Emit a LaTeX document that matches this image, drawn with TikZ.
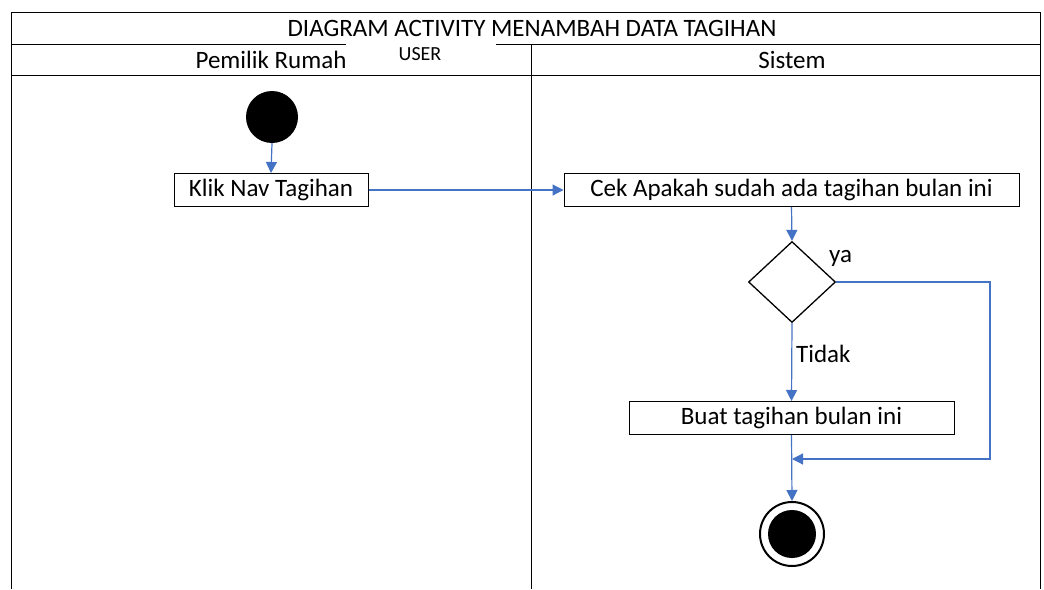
\documentclass[tikz,border=0pt]{standalone}
\usepackage{fontspec}
\setmainfont{Carlito}
\usetikzlibrary{shapes.geometric,arrows.meta}
\definecolor{flow}{HTML}{4472C4}
\begin{document}
\begin{tikzpicture}[x=1pt,y=-1pt,
  frame/.style={draw=black,line width=0.9pt},
  actbox/.style={draw=black,line width=1pt,minimum height=33pt,inner sep=0pt,font=\fontsize{25}{30}\selectfont},
  flowline/.style={draw=flow,line width=1.2pt},
  flowarr/.style={flowline,-{Triangle[length=11pt,width=11pt]}},
  lbl/.style={font=\fontsize{25}{30}\selectfont,inner sep=0pt}]
\useasboundingbox (0,0) rectangle (1044,589);
\fill[white] (0,0) rectangle (1044,589);
% frame
\draw[frame] (11,589) -- (11,12) -- (1040,12) -- (1040,589);
\draw[frame] (11,44) -- (346,44);
\draw[frame] (496,44) -- (1040,44);
\draw[frame] (11,75) -- (1040,75);
\draw[frame] (531,44) -- (531,589);
\node[lbl] (title) at (532,28) {DIAGRAM ACTIVITY MENAMBAH DATA TAGIHAN};
\node[lbl] (lane1) at (271,60) {Pemilik Rumah};
\node[lbl] (lane2) at (792,60) {Sistem};
\node[inner sep=0pt,font=\fontsize{20}{24}\selectfont] (user) at (420,54) {USER};
% nodes
\node[circle,fill=black,minimum size=52pt,inner sep=0pt] (start) at (272,117) {};
\node[actbox,minimum width=194pt] (klik) at (271,190) {Klik Nav Tagihan};
\node[actbox,minimum width=455pt] (cek) at (791.5,190) {Cek Apakah sudah ada tagihan bulan ini};
\node[diamond,draw=black,line width=1.3pt,minimum width=87pt,minimum height=81pt,inner sep=0pt,aspect=1.07] (dec) at (792,282) {};
\node[actbox,minimum width=325pt] (buat) at (791.5,418) {Buat tagihan bulan ini};
\node[circle,draw=black,line width=2pt,minimum size=64pt,inner sep=0pt] (end) at (792,534) {};
\node[circle,fill=black,minimum size=48pt,inner sep=0pt] at (end.center) {};
\coordinate (join) at (792,459);
\coordinate (rt) at (990,282);
\coordinate (rb) at (990,459);
% connectors
\draw[flowarr] (start.south) -- (klik.north);
\draw[flowarr] (klik.east) -- (cek.west);
\draw[flowarr] (cek.south) -- (dec.north);
\draw[flowarr] (dec.south) -- (buat.north);
\draw[flowarr] (dec.east) -- (rt) -- (rb) -- (join);
\draw[flowarr] (buat.south) -- (end.north);
\node[lbl,anchor=west] (ya) at (829,258) {ya};
\node[lbl,anchor=west] (tidak) at (796,354) {Tidak};
\end{tikzpicture}
\end{document}
